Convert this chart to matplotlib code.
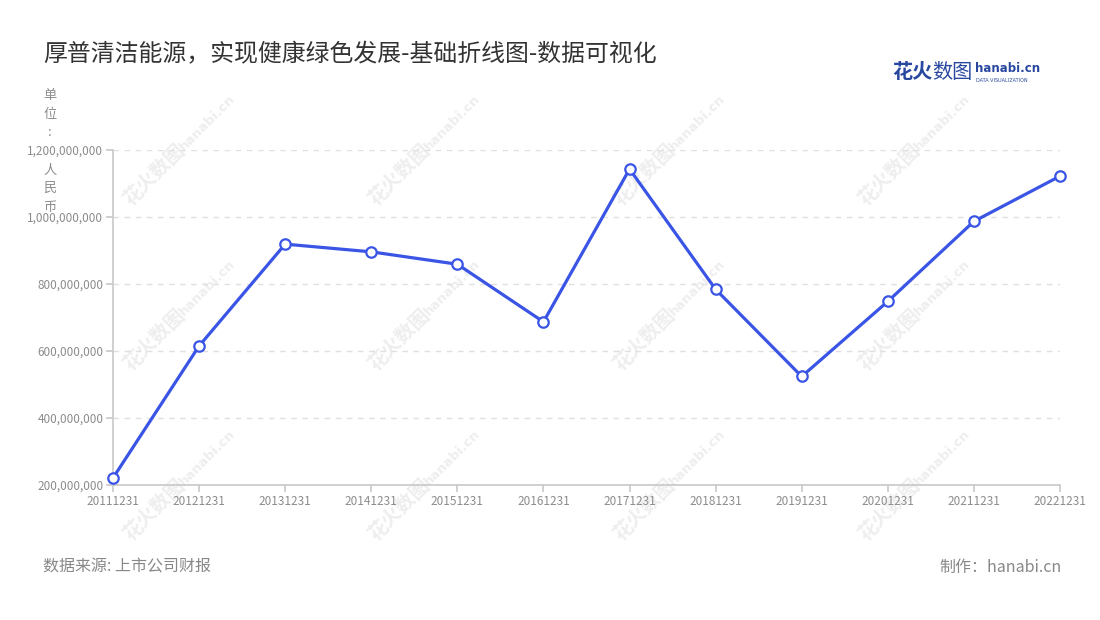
import matplotlib
matplotlib.use("Agg")
import matplotlib.pyplot as plt
from matplotlib.ticker import FuncFormatter, FixedLocator

plt.rcParams['font.family'] = ['Noto Sans CJK SC', 'DejaVu Sans']

# ---- data ----
years = ["20111231", "20121231", "20131231", "20141231", "20151231", "20161231",
         "20171231", "20181231", "20191231", "20201231", "20211231", "20221231"]
values = [221e6, 615e6, 919e6, 896e6, 859e6, 687e6,
          1143e6, 784e6, 524e6, 748e6, 987e6, 1122e6]
y_ticks = [200e6, 400e6, 600e6, 800e6, 1000e6, 1200e6]

title = "厚普清洁能源，实现健康绿色发展-基础折线图-数据可视化"
unit_chars = ["单", "位", ":", "", "人", "民", "币"]
source = "数据来源: 上市公司财报"
maker = "制作：hanabi.cn"

W, H = 1100, 620
fig = plt.figure(figsize=(W / 100, H / 100), dpi=100)

def fx(px):
    return px / W

def fy(py):
    return 1 - py / H

ax = fig.add_axes([fx(113), fy(485), fx(1060) - fx(113), fy(150) - fy(485)])
ax.set_zorder(2)

# watermarks (behind the axes)
wm_color = "#eeeeee"
for wx in [155, 400, 645, 890]:
    for wy in [175, 340, 510]:
        fig.text(fx(wx), fy(wy), "花火数图", fontsize=14, color=wm_color, rotation=45,
                 ha="center", va="center", fontweight="bold", zorder=-5)
        fig.text(fx(wx + 52), fy(wy - 52), "hanabi.cn", fontsize=9.5, color=wm_color,
                 rotation=45, ha="center", va="center", fontweight="bold", zorder=-5,
                 family=["DejaVu Sans"])

x = list(range(len(years)))
line_color = "#3a55e6"
ax.plot(x, values, color=line_color, linewidth=2.3, marker="o", markersize=7.5,
        markerfacecolor="white", markeredgecolor=line_color, markeredgewidth=1.6,
        zorder=5, clip_on=False)

ax.set_xlim(0, len(years) - 1)
ax.set_ylim(200e6, 1200e6)
ax.set_xticks(x)
ax.set_xticklabels(years)
ax.yaxis.set_major_locator(FixedLocator(y_ticks))
ax.yaxis.set_major_formatter(FuncFormatter(lambda v, p: f"{int(v):,}"))

ax.set_facecolor("none")
for s in ["top", "right"]:
    ax.spines[s].set_visible(False)
for s in ["left", "bottom"]:
    ax.spines[s].set_color("#c8c8c8")
    ax.spines[s].set_linewidth(1.2)

ax.grid(axis="y", color="#e0e0e0", linestyle=(0, (4, 4)), linewidth=1)
ax.tick_params(axis="both", colors="#c8c8c8", labelcolor="#8c8c8c", labelsize=8.5,
               length=5, width=1.2, pad=2)
ax.tick_params(axis="x", pad=2)

# title
fig.text(fx(43), fy(55), title, fontsize=17.2, color="#333333", ha="left", va="center")

# unit label stacked vertically
for i, ch in enumerate(unit_chars):
    if ch:
        fig.text(fx(50), fy(96 + i * 18.5), ch, fontsize=9.5, color="#8c8c8c",
                 ha="center", va="center")

# footer
fig.text(fx(43), fy(567), source, fontsize=11.5, color="#888888", ha="left", va="center")
fig.text(fx(1062), fy(567), maker, fontsize=11.5, color="#888888", ha="right", va="center")

# logo
fig.text(fx(892), fy(72), "花火", fontsize=14.5, color="#2848a0", ha="left", va="center",
         fontweight="bold")
fig.text(fx(932), fy(72), "数图", fontsize=14.5, color="#2848a0", ha="left", va="center")
fig.text(fx(975), fy(69), "hanabi.cn", fontsize=8.5, color="#2848a0", ha="left", va="center",
         fontweight="bold", family=["DejaVu Sans"])
fig.text(fx(976), fy(80), "DATA VISUALIZATION", fontsize=3.5, color="#2848a0",
         ha="left", va="center", family=["DejaVu Sans"])

fig.savefig("out.png", dpi=100)
